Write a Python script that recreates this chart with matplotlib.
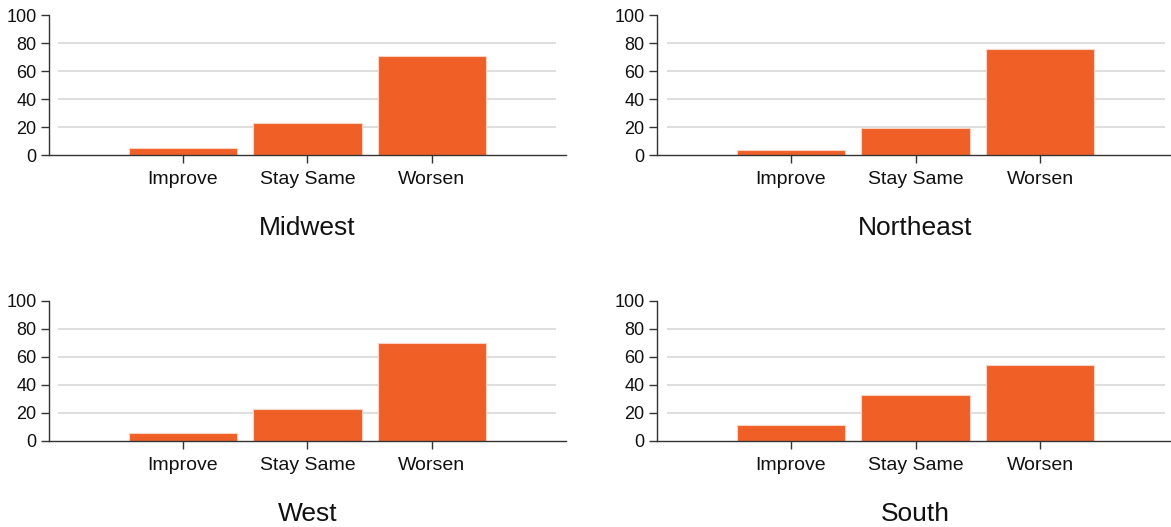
import matplotlib.pyplot as plt

plt.rcParams['font.family'] = ['Liberation Sans', 'DejaVu Sans']

categories = ["Improve", "Stay Same", "Worsen"]
regions = ["Midwest", "Northeast", "West", "South"]
midwest = [5, 23, 71]
northeast = [4, 19.5, 75.5]
west = [5.5, 23, 70]
south = [11.5, 33, 54]
yticks = [0, 20, 40, 60, 80, 100]
gridlines = [20, 40, 60, 80]

BAR_COLOR = "#f05f26"
AXIS_COLOR = "#333333"


def draw_panel(ax, values, title):
    x = list(range(len(categories)))
    ax.hlines(gridlines, -1, 3, color="#dedede", linewidth=1.4, zorder=1)
    ax.bar(x, values, width=0.87, color=BAR_COLOR, edgecolor="#fbd3c2",
           linewidth=0.8, zorder=2)
    ax.set_xlim(-1.076, 3.076)
    ax.set_ylim(0, 100)
    ax.set_yticks(yticks)
    ax.set_xticks(x, categories)
    for side in ["top", "right"]:
        ax.spines[side].set_visible(False)
    for side in ["left", "bottom"]:
        ax.spines[side].set_color(AXIS_COLOR)
        ax.spines[side].set_linewidth(1.0)
    ax.tick_params(axis="x", length=6, width=1, color=AXIS_COLOR, pad=5.5,
                   labelsize=14, labelcolor="#111111")
    ax.tick_params(axis="y", length=6, width=1, color=AXIS_COLOR, pad=3,
                   labelsize=13, labelcolor="#111111")
    ax.text(0.5, -0.57, title, transform=ax.transAxes, ha="center",
            va="baseline", fontsize=19, color="#111111")


def main():
    fig = plt.figure(figsize=(11.71, 5.27), dpi=100)
    w, h = 0.4415, 0.2662
    rects = [
        (0.0418, 0.7053, w, h),
        (0.5611, 0.7053, w, h),
        (0.0418, 0.1632, w, h),
        (0.5611, 0.1632, w, h),
    ]
    data = [midwest, northeast, west, south]
    for rect, values, title in zip(rects, data, regions):
        ax = fig.add_axes(rect)
        draw_panel(ax, values, title)
    fig.savefig("out.png", dpi=100)


if __name__ == "__main__":
    main()
